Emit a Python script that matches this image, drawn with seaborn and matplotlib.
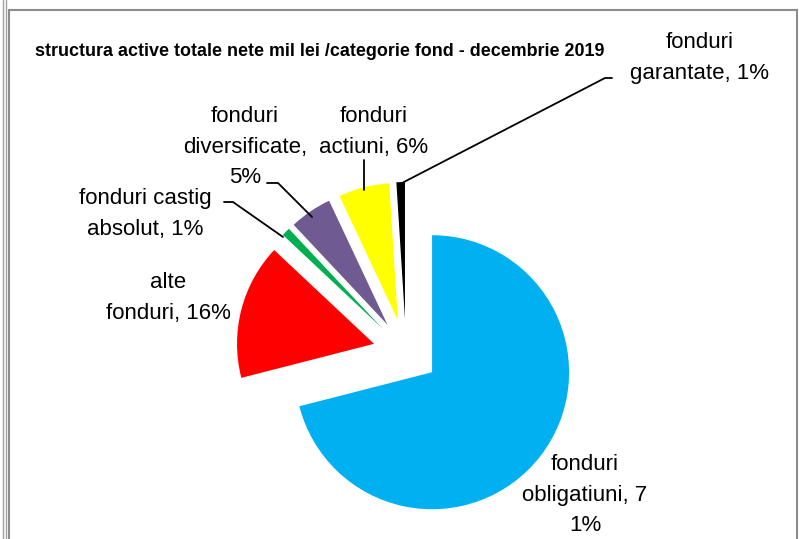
import seaborn as sns
import matplotlib.pyplot as plt
from matplotlib.patches import Rectangle

# date: structura active totale nete / categorie fond (%)
categorii = ['fonduri obligatiuni', 'alte fonduri', 'fonduri castig absolut',
             'fonduri diversificate', 'fonduri actiuni', 'fonduri garantate']
procente = [71, 16, 1, 5, 6, 1]
etichete = ['fonduri\nobligatiuni, 7\n1%', 'alte\nfonduri, 16%', 'fonduri castig\nabsolut, 1%',
            'fonduri\ndiversificate,\n5%', 'fonduri\nactiuni, 6%', 'fonduri\ngarantate, 1%']
culori = ['#00B0F0', '#FF0000', '#00B050', '#705A92', '#FFFF00', '#000000']
titlu = 'structura active totale nete mil lei /categorie fond - decembrie 2019'

sns.set_theme(style='white')
plt.rcParams['font.family'] = ['Liberation Sans Narrow', 'Liberation Sans', 'DejaVu Sans']

W, H = 799, 539
fig = plt.figure(figsize=(W / 100, H / 100), dpi=100)
ax = fig.add_axes([0, 0, 1, 1])


def Y(y):
    # coordonate de imagine -> coordonate axe
    return H - y


R = 137
ax.pie(procente, colors=culori, startangle=90, counterclock=False,
       explode=[33] * 6, center=(406, Y(352)), radius=R,
       wedgeprops=dict(linewidth=0))
ax.set_xlim(0, W)
ax.set_ylim(0, H)
ax.set_aspect('equal')
ax.axis('off')

# chenar
ax.add_patch(Rectangle((9, -5), 788, Y(10) + 5, fill=False, ec='#8C8C8C', lw=1.5))
ax.plot([2.5, 2.5], [0, H], color='#A0A0A0', lw=1)
ax.plot([5.5, 5.5], [0, H], color='#A0A0A0', lw=1)

ax.text(35, Y(52), titlu, fontsize=12.9, fontweight='bold', va='center', ha='left',
        color='black')

# etichete
pozitii = [(585, 495), (168, 298), (145, 214), (245, 147), (374, 132), (700, 58)]
for text, (x, y) in zip(etichete, pozitii):
    ax.text(x, Y(y), text, fontsize=16, ha='center', va='center', linespacing=1.6,
            color='black')

# linii de legatura
linii = [
    [(224, 202), (233, 202), (283, 237)],
    [(267, 183), (278, 183), (312, 217)],
    [(364, 160), (364, 190)],
    [(612, 78), (605, 78), (402, 183)],
]
for pts in linii:
    xs = [p[0] for p in pts]
    ys = [Y(p[1]) for p in pts]
    ax.plot(xs, ys, color='black', lw=1.3)

fig.savefig('out.png', dpi=100)
